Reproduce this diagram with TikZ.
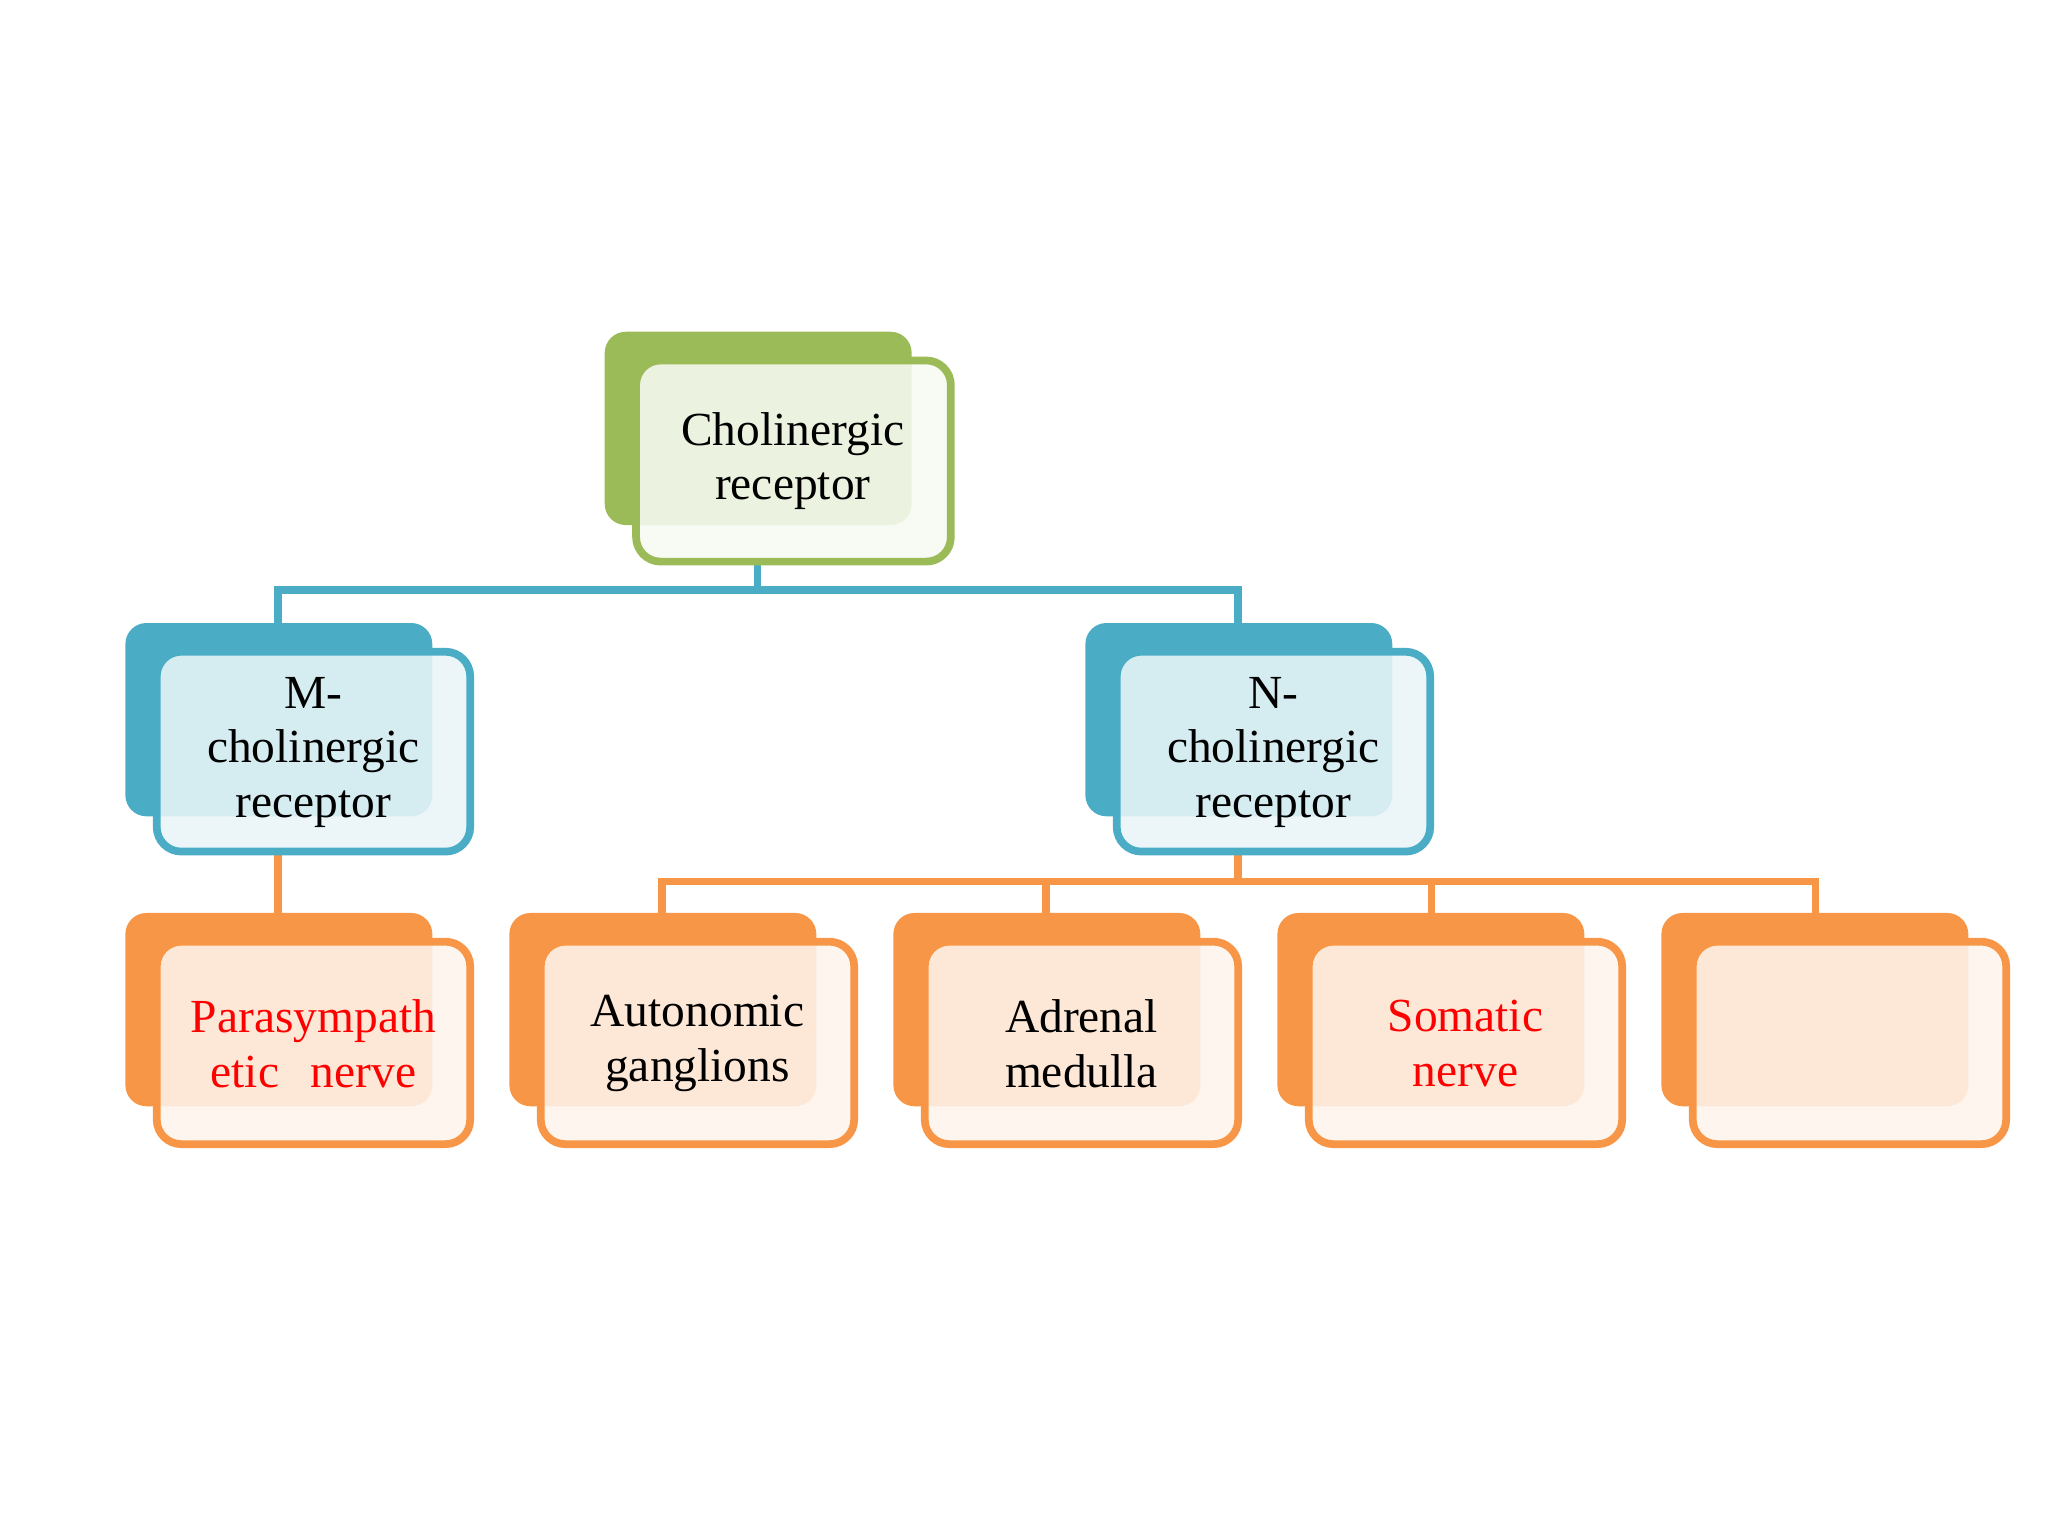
\documentclass[tikz,border=0pt]{standalone}
\usepackage{fontspec}
\setmainfont{Liberation Serif}
\begin{document}
\begin{tikzpicture}[x=0.01306cm,y=-0.01306cm,
  back/.style={rounded corners=6pt},
  front/.style={rounded corners=7pt,line width=2.2pt,fill=white,fill opacity=0.88,text opacity=1},
  lbl/.style={align=center,font=\fontsize{13.5}{15.5}\selectfont,text width=2.6cm},
  bl/.style={line width=2.2pt,draw=cblue},
  ol/.style={line width=2.2pt,draw=corange}]
\definecolor{cgreen}{HTML}{9BBB59}
\definecolor{cblue}{HTML}{4BACC6}
\definecolor{corange}{HTML}{F79646}
\useasboundingbox (0,0) rectangle (1568,1176);
% connectors
\coordinate (rb) at (580,430);
\coordinate (mt) at (213,477);
\coordinate (nt) at (948,477);
\draw[bl] (rb) -- (580,452) -| (mt);
\draw[bl] (580,452) -| (nt);
\coordinate (mb) at (213,652);
\coordinate (b1) at (213,699);
\draw[ol] (mb) -- (b1);
\coordinate (nb) at (948,652);
\coordinate (b2) at (507,699);
\coordinate (b3) at (801,699);
\coordinate (b4) at (1096,699);
\coordinate (b5) at (1390,699);
\draw[ol] (nb) -- (948,675);
\draw[ol] (b2) |- (948,675) -| (b5);
\draw[ol] (b3) -- (801,675);
\draw[ol] (b4) -- (1096,675);
% root
\fill[cgreen,back] (463,254) rectangle (698,402);
\draw[front,draw=cgreen,fill=cgreen!8] (487,276) rectangle (728,430);
\node[lbl] (root) at (607,353) {Cholinergic\\receptor};
% M, N
\foreach \x/\n/\t in {96/m/M-, 831/n/N-}{
  \fill[cblue,back] (\x,477) rectangle ({\x+235},625);
  \draw[front,draw=cblue,fill=cblue!12] ({\x+24},499) rectangle ({\x+264},652);
  \node[lbl] (\n) at ({\x+144},576) {\t\\cholinergic\\receptor};
}
% bottom row
\foreach \x/\n/\t/\c in {96/p/{Parasympath\\etic\ \ nerve}/red, 390/a/{Autonomic\\ganglions}/black, 684/d/{Adrenal\\medulla}/black, 978/s/{Somatic\\nerve}/red, 1272/e/{}/black}{
  \fill[corange,back] (\x,699) rectangle ({\x+235},847);
  \draw[front,draw=corange,fill=corange!10] ({\x+24},721) rectangle ({\x+264},876);
  \node[lbl,text=\c] (\n) at ({\x+144},799) {\t};
}
\end{tikzpicture}
\end{document}
